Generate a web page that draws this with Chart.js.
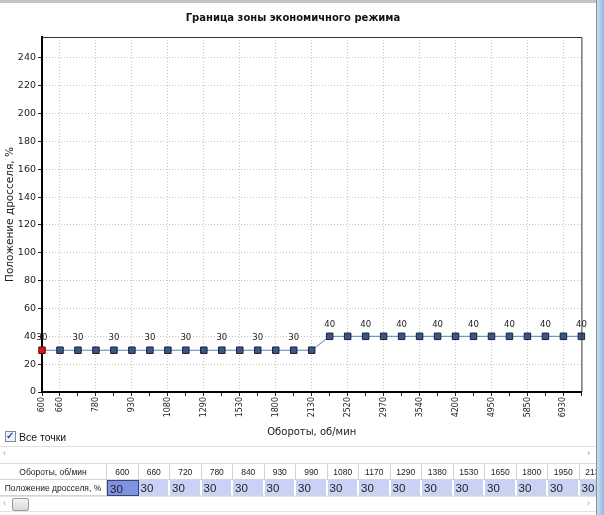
<!DOCTYPE html>
<html>
<head>
<meta charset="utf-8">
<script src="https://cdn.jsdelivr.net/npm/chart.js@4"></script>
<style>
  body { margin: 0; background: #fff; width: 604px; height: 515px; overflow: hidden; position: relative; font-family: "Liberation Sans", sans-serif; }
  #topBar { position: absolute; left: 0; top: 0; width: 597px; height: 3px; background: #c4c4c4; }
  #rightEdge { position: absolute; left: 596px; top: 0; width: 1px; height: 515px; background: #8c8c8c; }
  #rightBlue { position: absolute; left: 597px; top: 0; width: 7px; height: 515px; background: linear-gradient(to right, #c9def2, #8fb9e2); }
  #chartBox { position: absolute; left: 0; top: 0; width: 592px; height: 445px; }
  #allPoints { position: absolute; left: 5px; top: 431px; font-size: 10.5px; color: #111; }
  #allPoints .box { display: inline-block; width: 9px; height: 9px; border: 1px solid #7b8ca8; background: #eef2f8; vertical-align: -1px; position: relative; margin-right: 3px; }
  #allPoints .box span { position: absolute; left: 0px; top: -2px; font-size: 10px; color: #1f4fa8; font-weight: bold; }
  .scrollLine { position: absolute; left: 0; width: 596px; border-top: 1px solid #e2e2e2; color: #999; font-size: 9px; }
  #grid { position: absolute; left: 0; top: 463px; width: 596px; height: 33px; overflow: hidden; border-top: 1px solid #dcdcdc; }
  .cell { position: absolute; height: 16px; line-height: 16px; box-sizing: border-box; border-right: 1px solid #d4d4d4; border-bottom: 1px solid #d4d4d4; font-size: 8.5px; color: #222; text-align: center; white-space: nowrap; overflow: hidden; }
  .val { background: #c8d2f5; text-align: left; padding-left: 2px; font-size: 11.5px; border-right: 2px solid #fff; }
  .sel { background: #7f92e2; border: 1px solid #3a4470; }
  #thumb { position: absolute; left: 12px; top: 498px; width: 15px; height: 11px; border: 1px solid #9a9a9a; border-radius: 2px; background: linear-gradient(#f4f4f4, #d8d8d8); }
</style>
</head>
<body>
<div id="topBar"></div>
<div id="rightEdge"></div>
<div id="rightBlue"></div>
<div id="chartBox"><canvas id="ecoChart"></canvas></div>
<div id="allPoints"><span class="box"><span>✓</span></span>Все точки</div>
<div class="scrollLine" style="top:446px;height:14px;"><span style="position:absolute;left:3px;top:1px;">‹</span><span style="position:absolute;left:587px;top:1px;">›</span></div>
<div id="grid"></div>
<div class="scrollLine" style="top:496px;height:14px;border-bottom:1px solid #e2e2e2;"><span style="position:absolute;left:3px;top:1px;">‹</span><span style="position:absolute;left:587px;top:1px;">›</span></div>
<div id="thumb"></div>
<script>
// Data
const chartTitle = "Граница зоны экономичного режима";
const xTitle = "Обороты, об/мин";
const yTitle = "Положение дросселя, %";
const rpm = [600, 660, 720, 780, 840, 930, 990, 1080, 1170, 1290, 1380, 1530, 1650, 1800, 1950, 2130,
  2310, 2520, 2730, 2970, 3240, 3540, 3870, 4200, 4560, 4950, 5370, 5850, 6360, 6930, 7500];
const throttle = [30, 30, 30, 30, 30, 30, 30, 30, 30, 30, 30, 30, 30, 30, 30, 30,
  40, 40, 40, 40, 40, 40, 40, 40, 40, 40, 40, 40, 40, 40, 40];
const yMax = 255;
const yStep = 20;

// Table under the chart
const grid = document.getElementById("grid");
const firstColW = 107;
const colW = 31.5;
function addCell(text, left, top, width, cls) {
  const d = document.createElement("div");
  d.className = "cell " + (cls || "");
  d.style.left = left + "px";
  d.style.top = top + "px";
  d.style.width = width + "px";
  d.textContent = text;
  grid.appendChild(d);
}
addCell(xTitle, 0, 0, firstColW);
addCell(yTitle, 0, 16, firstColW);
rpm.forEach((r, i) => {
  const left = firstColW + i * colW;
  addCell(String(r), left, 0, colW);
  addCell(String(throttle[i]), left, 16, colW, i === 0 ? "val sel" : "val");
});

// Frame on top/right and point value labels
const framePlugin = {
  id: "frame",
  afterDraw(chart) {
    const { ctx, chartArea: a } = chart;
    ctx.save();
    ctx.strokeStyle = "#333";
    ctx.lineWidth = 1;
    ctx.beginPath();
    ctx.moveTo(a.left, a.top + 0.5);
    ctx.lineTo(a.right + 0.5, a.top + 0.5);
    ctx.lineTo(a.right + 0.5, a.bottom);
    ctx.stroke();
    ctx.restore();
  },
};
const valueLabels = {
  id: "valueLabels",
  afterDatasetsDraw(chart) {
    const { ctx } = chart;
    const meta = chart.getDatasetMeta(0);
    ctx.save();
    ctx.font = "8.5px 'DejaVu Sans'";
    ctx.fillStyle = "#222";
    ctx.textAlign = "center";
    ctx.textBaseline = "middle";
    meta.data.forEach((pt, i) => {
      if (i % 2 === 0) ctx.fillText(String(throttle[i]), pt.x, pt.y - 12);
    });
    ctx.restore();
  },
};

const ctx = document.getElementById("ecoChart").getContext("2d");
const ecoChart = new Chart(ctx, {
  type: "line",
  data: {
    labels: rpm.map(String),
    datasets: [
      {
        data: throttle,
        borderColor: "#5a80b8",
        borderWidth: 1,
        pointStyle: "rect",
        pointRadius: 4.6,
        pointBorderWidth: 1,
        pointBackgroundColor: throttle.map((v, i) => (i === 0 ? "#e01515" : "#3a5686")),
        pointBorderColor: throttle.map((v, i) => (i === 0 ? "#5a1010" : "#18243a")),
        tension: 0,
      },
    ],
  },
  options: {
    responsive: true,
    maintainAspectRatio: false,
    animation: false,
    layout: { padding: { left: 0, right: 6, top: 0, bottom: 0 } },
    plugins: {
      legend: { display: false },
      tooltip: { enabled: false },
      title: {
        display: true,
        text: chartTitle,
        color: "#111",
        font: { family: "DejaVu Sans", size: 10, weight: "bold" },
        padding: { top: 12, bottom: 13 },
      },
    },
    scales: {
      x: {
        offset: false,
        afterFit: (s) => { s.height = 53; },
        grid: {
          color: (c) => (c.index % 2 === 1 ? "#c4c4c4" : "rgba(0,0,0,0)"),
          tickColor: "#222",
          tickLength: 4,
        },
        border: { color: "#000", width: 2, dash: [1, 2] },
        ticks: {
          autoSkip: false,
          maxRotation: 90,
          minRotation: 90,
          padding: 1,
          color: "#222",
          font: { family: "DejaVu Sans", size: 8 },
          callback: function (value, index) {
            return index === 0 || index % 2 === 1 ? this.getLabelForValue(value) : "";
          },
        },
        title: {
          display: true,
          text: xTitle,
          color: "#222",
          font: { family: "DejaVu Sans", size: 10 },
          padding: { top: 0, bottom: 7 },
        },
      },
      y: {
        min: 0,
        max: yMax,
        afterFit: (s) => { s.width = 42; },
        grid: { color: "#c4c4c4", tickColor: "#222", tickLength: 4 },
        border: { color: "#000", width: 2, dash: [1, 2] },
        ticks: {
          stepSize: yStep,
          includeBounds: false,
          padding: 2,
          color: "#222",
          font: { family: "DejaVu Sans", size: 9.5 },
          callback: (v) => (v % yStep === 0 ? v : ""),
        },
        title: {
          display: true,
          text: yTitle,
          color: "#222",
          font: { family: "DejaVu Sans", size: 10.5 },
          padding: { top: 4, bottom: 0 },
        },
      },
    },
  },
  plugins: [framePlugin, valueLabels],
});
</script>
</body>
</html>
